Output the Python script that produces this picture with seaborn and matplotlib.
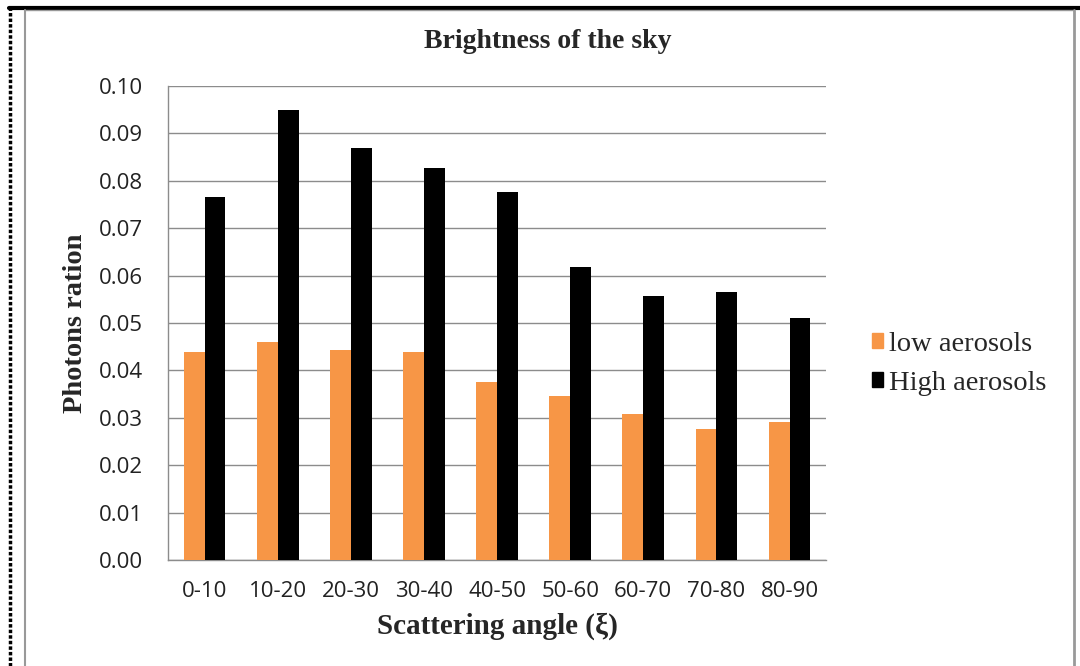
import matplotlib
matplotlib.use("Agg")
import matplotlib.pyplot as plt
import numpy as np
import pandas as pd
import seaborn as sns
from matplotlib.lines import Line2D
from matplotlib.patches import Patch

# values
angles = ["0-10", "10-20", "20-30", "30-40", "40-50", "50-60", "60-70", "70-80", "80-90"]
low_aerosols = [0.0439, 0.0460, 0.0443, 0.0439, 0.0376, 0.0346, 0.0308, 0.0276, 0.0291]
high_aerosols = [0.0766, 0.0950, 0.0869, 0.0827, 0.0776, 0.0619, 0.0557, 0.0565, 0.0511]
series_names = ["low aerosols", "High aerosols"]
colors = ["#F79646", "#000000"]

df = pd.DataFrame({
    "angle": angles * 2,
    "value": low_aerosols + high_aerosols,
    "series": [series_names[0]] * len(angles) + [series_names[1]] * len(angles),
})

sns.set_style("white")
plt.rcParams["font.family"] = ["Open Sans", "DejaVu Sans"]
serif = ["Liberation Serif", "DejaVu Serif"]

fig = plt.figure(figsize=(10.8, 6.66), dpi=100)
ax = fig.add_axes([0.1556, 0.1592, 0.6093, 0.7117])

sns.barplot(data=df, x="angle", y="value", hue="series", palette=colors,
            width=0.57, saturation=1, linewidth=0, ax=ax, legend=False, zorder=3)

grid_c = "#8c8c8c"
ax.set_ylim(0, 0.10)
ax.set_xlim(-0.5, len(angles) - 0.5)
yt = np.arange(0, 0.1001, 0.01)
ax.set_yticks(yt)
ax.set_yticklabels([f"{v:.2f}" for v in yt], fontsize=16, color="#222222")
ax.tick_params(axis="x", which="major", length=0, labelsize=16, labelcolor="#222222", pad=15)
ax.set_xticks(np.arange(-0.5, len(angles), 1), minor=True)
ax.tick_params(axis="x", which="minor", length=7, color=grid_c, width=1, direction="out")
ax.tick_params(axis="y", length=7, color=grid_c, width=1, direction="out", pad=11)
ax.yaxis.grid(True, color=grid_c, linewidth=1, zorder=0)
ax.set_axisbelow(True)
for s in ["top", "right"]:
    ax.spines[s].set_visible(False)
for s in ["left", "bottom"]:
    ax.spines[s].set_color(grid_c)
    ax.spines[s].set_linewidth(1)

ax.set_xlabel("Scattering angle (\u03be)", fontsize=21, fontweight="bold", family=serif, labelpad=8)
ax.set_ylabel("Photons ration", fontsize=20.5, fontweight="bold", family=serif, labelpad=8)
fig.text(0.507, 0.937, "Brightness of the sky", ha="center", va="center",
         fontsize=20, fontweight="bold", family=serif)

handles = [Patch(facecolor=c, edgecolor=c) for c in colors]
fig.legend(handles, series_names, loc="center left", bbox_to_anchor=(0.807, 0.454),
           frameon=False, prop={"family": "Liberation Serif", "size": 20.5},
           handlelength=0.4, handleheight=0.4, handletextpad=0.2, labelspacing=0.5,
           borderaxespad=0, borderpad=0)

# page frame: solid top, dotted left, grey inner borders
fig.add_artist(Line2D([0.008, 1.0], [0.988, 0.988], color="black", linewidth=3, transform=fig.transFigure))
fig.add_artist(Line2D([0.009, 0.009], [0.0, 0.988], color="black", linewidth=2.5,
                      linestyle=(0, (1, 0.6)), transform=fig.transFigure))
fig.add_artist(Line2D([0.023, 0.023], [0.0, 0.985], color="#999999", linewidth=1.5, transform=fig.transFigure))
fig.add_artist(Line2D([0.994, 0.994], [0.0, 0.985], color="#999999", linewidth=2, transform=fig.transFigure))
fig.add_artist(Line2D([0.023, 0.994], [0.985, 0.985], color="#999999", linewidth=1, transform=fig.transFigure))

fig.savefig("out.png", dpi=100)
